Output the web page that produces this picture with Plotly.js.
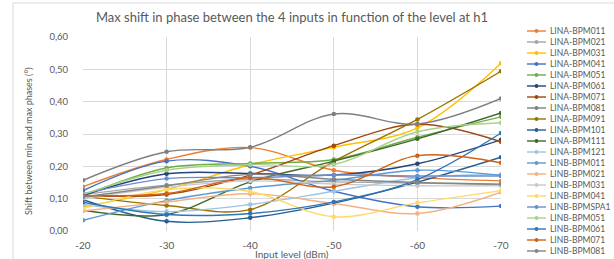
<!DOCTYPE html>
<html>
<head>
<meta charset="utf-8">
<script src="https://cdn.plot.ly/plotly-3.0.1.min.js"></script>
<style>
html,body{margin:0;padding:0;background:#fff;}
#chart{width:614px;height:259px;}
</style>
</head>
<body>
<div id="chart"></div>
<script>
// ---- data ----
const levels = ['-20', '-30', '-40', '-50', '-60', '-70'];
const seriesNames = ['LINA-BPM011','LINA-BPM021','LINA-BPM031','LINA-BPM041','LINA-BPM051','LINA-BPM061','LINA-BPM071','LINA-BPM081','LINA-BPM091','LINA-BPM101','LINA-BPM111','LINA-BPM121','LINB-BPM011','LINB-BPM021','LINB-BPM031','LINB-BPM041','LINB-BPMSPA1','LINB-BPM051','LINB-BPM061','LINB-BPM071','LINB-BPM081'];

const linaBpm011 = [0.137, 0.221, 0.258, 0.188, 0.165, 0.155];
const linaBpm021 = [0.113, 0.142, 0.160, 0.152, 0.148, 0.144];
const linaBpm031 = [0.075, 0.128, 0.205, 0.259, 0.319, 0.519];
const linaBpm041 = [0.125, 0.216, 0.200, 0.123, 0.075, 0.077];
const linaBpm051 = [0.108, 0.195, 0.209, 0.221, 0.290, 0.353];
const linaBpm061 = [0.110, 0.177, 0.178, 0.173, 0.208, 0.282];
const linaBpm071 = [0.110, 0.113, 0.173, 0.264, 0.330, 0.276];
const linaBpm081 = [0.157, 0.245, 0.259, 0.362, 0.331, 0.410];
const linaBpm091 = [0.108, 0.079, 0.066, 0.215, 0.345, 0.494];
const linaBpm101 = [0.097, 0.030, 0.041, 0.086, 0.151, 0.228];
const linaBpm111 = [0.064, 0.051, 0.152, 0.216, 0.285, 0.365];
const linaBpm121 = [0.082, 0.060, 0.082, 0.123, 0.164, 0.175];
const linbBpm011 = [0.033, 0.094, 0.133, 0.157, 0.188, 0.172];
const linbBpm021 = [0.062, 0.090, 0.115, 0.085, 0.054, 0.120];
const linbBpm031 = [0.100, 0.135, 0.155, 0.145, 0.140, 0.140];
const linbBpm041 = [0.069, 0.128, 0.122, 0.044, 0.087, 0.125];
const linbBpmSpa1 = [0.115, 0.162, 0.165, 0.173, 0.170, 0.170];
const linbBpm051 = [0.113, 0.188, 0.205, 0.206, 0.307, 0.335];
const linbBpm061 = [0.089, 0.051, 0.054, 0.090, 0.159, 0.303];
const linbBpm071 = [0.110, 0.116, 0.165, 0.137, 0.233, 0.211];
const linbBpm081 = [0.105, 0.140, 0.175, 0.160, 0.150, 0.145];

const yTickValues = [0, 0.1, 0.2, 0.3, 0.4, 0.5, 0.6];

// ---- styles ----
const seriesColors = ['#ED7D31','#A5A5A5','#FFC000','#4472C4','#70AD47','#264478','#9E480E','#7F7F7F','#997300','#255E91','#43682B','#9DC3E6','#5B9BD5','#F4B183','#C9C9C9','#FFD966','#698ED0','#A9D18E','#2E75B6','#D26012','#848484'];

const allSeries = [linaBpm011, linaBpm021, linaBpm031, linaBpm041, linaBpm051, linaBpm061, linaBpm071, linaBpm081, linaBpm091, linaBpm101, linaBpm111, linaBpm121, linbBpm011, linbBpm021, linbBpm031, linbBpm041, linbBpmSpa1, linbBpm051, linbBpm061, linbBpm071, linbBpm081];

const W = 614, H = 259;
const mL = 83, mR = 113, mT = 37, mB = 28;
const plotW = W - mL - mR, plotH = H - mT - mB;
const px2x = p => (p - mL) / plotW;
const py2y = p => (H - mB - p) / plotH;

const traces = allSeries.map((vals, i) => ({
  type: 'scatter',
  mode: 'lines+markers',
  name: seriesNames[i],
  x: levels,
  y: vals,
  line: {color: seriesColors[i], width: 1.4, shape: 'spline', smoothing: 1},
  marker: {color: seriesColors[i], size: 4.5},
  showlegend: false,
  hoverinfo: 'x+y+name'
}));

// custom legend (Plotly legend items are at least 19px tall)
const shapes = [];
const annotations = [];
const legY0 = 31, legStep = 11;
seriesNames.forEach((nm, i) => {
  const py = legY0 + i * legStep;
  shapes.push({type: 'line', xref: 'paper', yref: 'paper',
    x0: px2x(527), x1: px2x(546), y0: py2y(py), y1: py2y(py),
    line: {color: seriesColors[i], width: 1.4}});
  shapes.push({type: 'circle', xref: 'paper', yref: 'paper',
    x0: px2x(534.6), x1: px2x(538.4), y0: py2y(py + 1.9), y1: py2y(py - 1.9),
    fillcolor: seriesColors[i], line: {width: 0}});
  annotations.push({xref: 'paper', yref: 'paper', x: px2x(548), y: py2y(py),
    xanchor: 'left', yanchor: 'middle', showarrow: false, text: nm,
    font: {size: 8.5, color: '#595959', family: 'Lato, "Liberation Sans", sans-serif'}});
});
// chart area border
shapes.push({type: 'rect', xref: 'paper', yref: 'paper',
  x0: px2x(13), x1: px2x(640), y0: py2y(280), y1: py2y(3),
  line: {color: '#D9D9D9', width: 1}, fillcolor: 'rgba(0,0,0,0)', layer: 'below'});

// axis titles as annotations for exact placement
annotations.push({xref: 'paper', yref: 'paper', x: px2x(292), y: py2y(254),
  xanchor: 'center', yanchor: 'middle', showarrow: false, text: 'Input level (dBm)',
  font: {size: 10, color: '#595959', family: 'Lato, "Liberation Sans", sans-serif'}});
annotations.push({xref: 'paper', yref: 'paper', x: px2x(28), y: py2y(141),
  xanchor: 'center', yanchor: 'middle', showarrow: false, textangle: -90,
  text: 'Shift between min and max phases (°)',
  font: {size: 9, color: '#595959', family: 'Lato, "Liberation Sans", sans-serif'}});

const layout = {
  width: W, height: H,
  margin: {l: mL, r: mR, t: mT, b: mB, pad: 0},
  paper_bgcolor: '#ffffff', plot_bgcolor: '#ffffff',
  separators: ', ',
  font: {family: 'Lato, "Liberation Sans", sans-serif', color: '#595959', size: 10},
  title: {text: 'Max shift in phase between the 4 inputs in function of the level at h1',
    x: 0.5, xref: 'paper', xanchor: 'center', y: 1 - 17 / H, yref: 'container', yanchor: 'middle',
    font: {size: 13, color: '#595959', family: 'Lato, "Liberation Sans", sans-serif'}},
  xaxis: {type: 'category', categoryorder: 'array', categoryarray: levels,
    range: [0, 5], showgrid: true, gridcolor: '#D9D9D9', gridwidth: 1,
    zeroline: false, showline: false,
    ticks: 'outside', ticklen: 5, tickcolor: 'rgba(0,0,0,0)',
    tickfont: {size: 10, color: '#595959'}},
  yaxis: {range: [0, 0.6], tickvals: yTickValues, tickformat: '.2f',
    showgrid: true, gridcolor: '#D9D9D9', gridwidth: 1,
    zeroline: false, showline: false,
    ticks: 'outside', ticklen: 12, tickcolor: 'rgba(0,0,0,0)',
    tickfont: {size: 9.5, color: '#595959'}},
  shapes: shapes,
  annotations: annotations,
  showlegend: false
};

Plotly.newPlot('chart', traces, layout, {staticPlot: true, displayModeBar: false});
</script>
</body>
</html>
